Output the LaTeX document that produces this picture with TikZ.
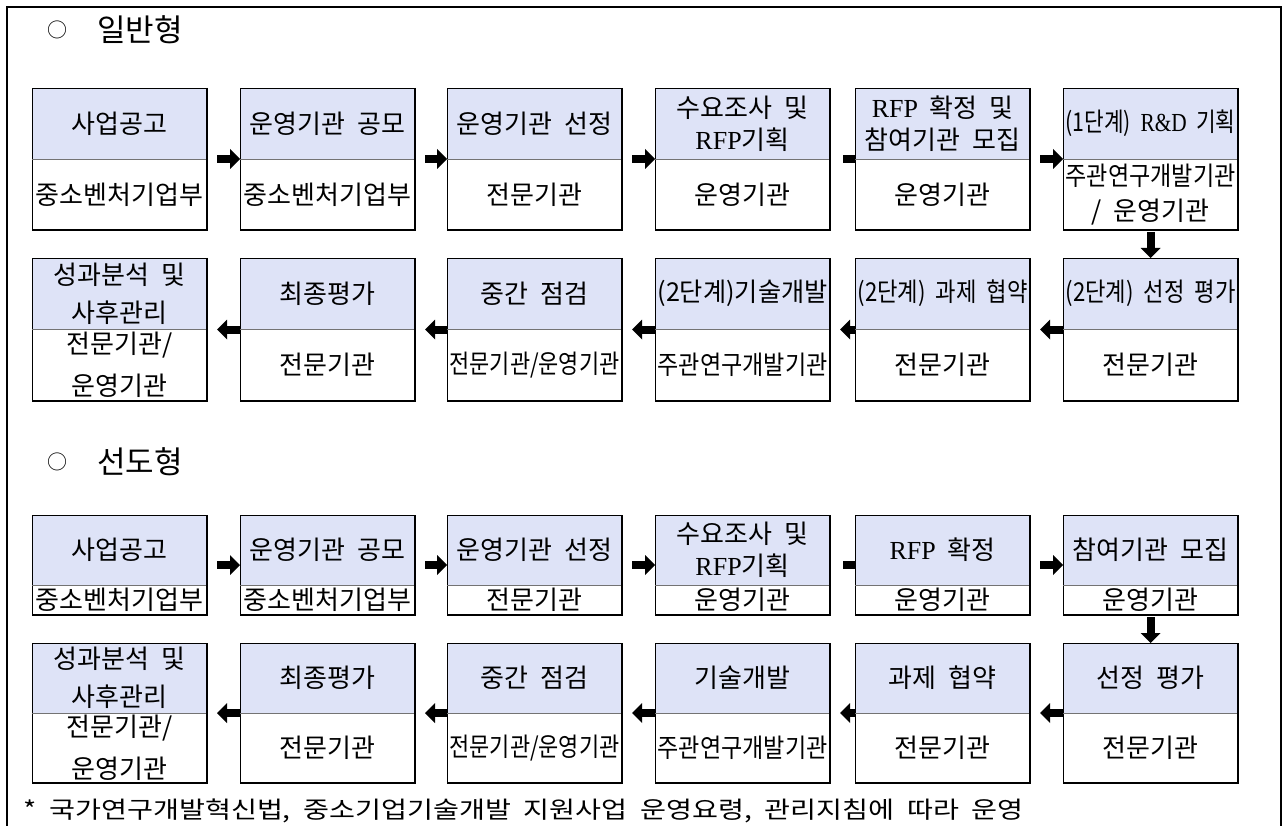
\documentclass[tikz,border=0pt]{standalone}
\usepackage{graphicx}
\usepackage{fontspec}
\setmainfont{Noto Sans CJK KR}[WordSpace=2]
\newfontfamily\lat{Liberation Serif}
\usetikzlibrary{arrows.meta,fit,backgrounds}
\definecolor{hdr}{RGB}{222,227,247}
\newsavebox\fitbx
\newcommand\fitline[1]{\sbox\fitbx{#1}\ifdim\wd\fitbx>170pt\resizebox{170pt}{\height}{\usebox\fitbx}\else\usebox\fitbx\fi}
\newcommand\boxfont{\fontsize{26}{32}\selectfont}
\tikzset{
  hdrbox/.style={fill=hdr, inner sep=0pt, outer sep=0pt, minimum width=175pt, align=center, font=\boxfont},
  bodybox/.style={fill=white, inner sep=0pt, outer sep=0pt, minimum width=175pt, align=center, font=\boxfont},
  outerbox/.style={inner sep=0pt, outer sep=0pt, draw, line width=0.9pt},
  divline/.style={line width=0.9pt, draw=black!55},
  shadowline/.style={line width=2.6pt, line join=miter},
  arr/.style={line width=8pt, -{Triangle[length=10pt,width=20pt,line width=0pt]}},
  frameline/.style={line width=1.1pt},
  titlefont/.style={font=\fontsize{31}{31}\selectfont},
  circfont/.style={font=\fontsize{20}{20}\selectfont},
}
\newcommand\mkstep[7]{%
  \node[hdrbox, minimum height={(#4-#3)*1pt}] (#1h) at ({#2+87.5},{(#3+#4)/2}) {#6};
  \node[bodybox, minimum height={(#5-#4)*1pt}] (#1b) at ({#2+87.5},{(#4+#5)/2}) {#7};
  \node[outerbox, fit=(#1h)(#1b)] (#1) {};
  \draw[divline] (#1h.south west) -- (#1h.south east);
  \draw[shadowline] (#1.north east) -- (#1.south east) -- (#1.south west);
}
\begin{document}
\begin{tikzpicture}[x=1pt,y=-1pt]
\useasboundingbox (0,0) rectangle (1284,826);

% titles
\node[circfont] (c1) at (57,30) {○};
\node[titlefont] (t1) at (140,30) {일반형};
\node[circfont] (c2) at (57,462) {○};
\node[titlefont] (t2) at (140,462) {선도형};

% ---- 일반형 row 1
\mkstep{a1}{32}{88}{159}{230}{\fitline{사업공고}}{\fitline{중소벤처기업부}}
\mkstep{a2}{240}{88}{159}{230}{\fitline{운영기관 공모}}{\fitline{중소벤처기업부}}
\mkstep{a3}{447}{88}{159}{230}{\fitline{운영기관 선정}}{\fitline{전문기관}}
\mkstep{a4}{655}{88}{159}{230}{\fitline{수요조사 및}\\\fitline{{\lat RFP}기획}}{\fitline{운영기관}}
\mkstep{a5}{855}{88}{159}{230}{\fitline{{\lat RFP} 확정 및}\\\fitline{참여기관 모집}}{\fitline{운영기관}}
\mkstep{a6}{1063}{88}{159}{230}{\fitline{(1단계) {\lat R\&D} 기획}}{\fitline{주관연구개발기관}\\[3pt]\fitline{/ 운영기관}}
% ---- 일반형 row 2
\mkstep{a7}{1063}{258}{329}{401}{\fitline{(2단계) 선정 평가}}{\fitline{전문기관}}
\mkstep{a8}{855}{258}{329}{401}{\fitline{(2단계) 과제 협약}}{\fitline{전문기관}}
\mkstep{a9}{655}{258}{329}{401}{\fitline{(2단계)기술개발}}{\fitline{주관연구개발기관}}
\mkstep{a10}{447}{258}{329}{401}{\fitline{중간 점검}}{\fitline{전문기관/운영기관}}
\mkstep{a11}{240}{258}{329}{401}{\fitline{최종평가}}{\fitline{전문기관}}
\mkstep{a12}{32}{258}{329}{401}{\fitline{성과분석 및}\\[6pt]\fitline{사후관리}}{\fitline{전문기관/}\\[10pt]\fitline{운영기관}}
% ---- 선도형 row 1
\mkstep{b1}{32}{515}{585}{615}{\fitline{사업공고}}{\fitline{중소벤처기업부}}
\mkstep{b2}{240}{515}{585}{615}{\fitline{운영기관 공모}}{\fitline{중소벤처기업부}}
\mkstep{b3}{447}{515}{585}{615}{\fitline{운영기관 선정}}{\fitline{전문기관}}
\mkstep{b4}{655}{515}{585}{615}{\fitline{수요조사 및}\\\fitline{{\lat RFP}기획}}{\fitline{운영기관}}
\mkstep{b5}{855}{515}{585}{615}{\fitline{{\lat RFP} 확정}}{\fitline{운영기관}}
\mkstep{b6}{1063}{515}{585}{615}{\fitline{참여기관 모집}}{\fitline{운영기관}}
% ---- 선도형 row 2
\mkstep{b7}{1063}{643}{713}{783}{\fitline{선정 평가}}{\fitline{전문기관}}
\mkstep{b8}{855}{643}{713}{783}{\fitline{과제 협약}}{\fitline{전문기관}}
\mkstep{b9}{655}{643}{713}{783}{\fitline{기술개발}}{\fitline{주관연구개발기관}}
\mkstep{b10}{447}{643}{713}{783}{\fitline{중간 점검}}{\fitline{전문기관/운영기관}}
\mkstep{b11}{240}{643}{713}{783}{\fitline{최종평가}}{\fitline{전문기관}}
\mkstep{b12}{32}{643}{713}{783}{\fitline{성과분석 및}\\[6pt]\fitline{사후관리}}{\fitline{전문기관/}\\[10pt]\fitline{운영기관}}

% footnote
\node[anchor=west] (fn) at (20,811) {\resizebox{1000pt}{\height}{\fontsize{23.5}{23.5}\selectfont * 국가연구개발혁신법, 중소기업기술개발 지원사업 운영요령, 관리지침에 따라 운영}};

% frame
\draw[frameline] (7,826) -- (7,7) -- (1281,7) -- (1281,826);

\begin{pgfonlayer}{background}
  \fill[white] (0,0) rectangle (1284,826);
  % 일반형
  \draw[arr, shorten <=10pt] (a1.east) -- (a2.west);
  \draw[arr, shorten <=10pt] (a2.east) -- (a3.west);
  \draw[arr, shorten <=10pt] (a3.east) -- (a4.west);
  \draw[arr, shorten <=13pt, shorten >=-10pt] (a4.east) -- (a5.west);
  \draw[arr, shorten <=10pt] (a5.east) -- (a6.west);
  \draw[arr, shorten <=2pt] (a6.south) -- (a7.north);
  \draw[arr, shorten >=10pt] (a7.west) -- (a8.east);
  \draw[arr, shorten >=10pt] (a8.west) -- (a9.east);
  \draw[arr, shorten >=10pt] (a9.west) -- (a10.east);
  \draw[arr, shorten >=10pt] (a10.west) -- (a11.east);
  \draw[arr, shorten >=10pt] (a11.west) -- (a12.east);
  % 선도형
  \draw[arr, shorten <=10pt] (b1.east) -- (b2.west);
  \draw[arr, shorten <=10pt] (b2.east) -- (b3.west);
  \draw[arr, shorten <=10pt] (b3.east) -- (b4.west);
  \draw[arr, shorten <=13pt, shorten >=-10pt] (b4.east) -- (b5.west);
  \draw[arr, shorten <=10pt] (b5.east) -- (b6.west);
  \draw[arr, shorten <=2pt] (b6.south) -- (b7.north);
  \draw[arr, shorten >=10pt] (b7.west) -- (b8.east);
  \draw[arr, shorten >=10pt] (b8.west) -- (b9.east);
  \draw[arr, shorten >=10pt] (b9.west) -- (b10.east);
  \draw[arr, shorten >=10pt] (b10.west) -- (b11.east);
  \draw[arr, shorten >=10pt] (b11.west) -- (b12.east);
\end{pgfonlayer}
\end{tikzpicture}
\end{document}
